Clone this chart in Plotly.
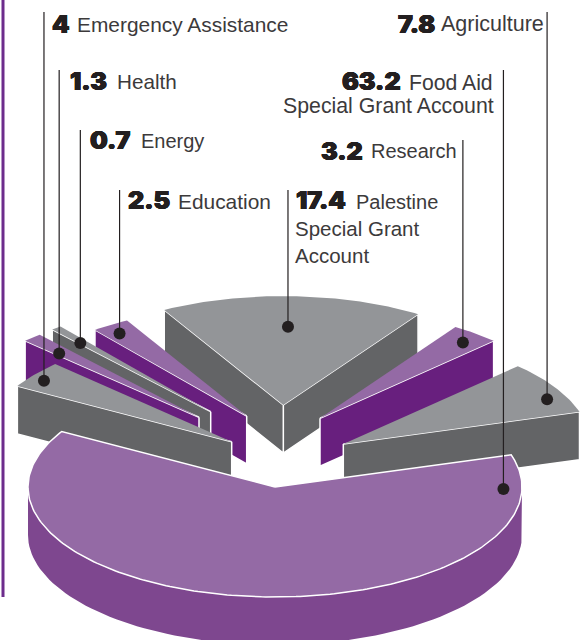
import math
import plotly.graph_objects as go

# Slices in angular order, counter-clockwise from the start angle
categories = ["Agriculture", "Research", "Palestine Special Grant Account", "Education",
              "Energy", "Health", "Emergency Assistance", "Food Aid Special Grant Account"]
values = [7.8, 3.2, 17.4, 2.5, 0.7, 1.3, 4, 63.2]
value_labels = ["7.8", "3.2", "17.4", "2.5", "0.7", "1.3", "4", "63.2"]

# Projection of the tilted pie onto the page
CX, CY = 274.5, 487.0
RX, RY = 247.0, 110.0
DEPTH = 48.0
START_ANGLE = 17.0

GREY_TOP, GREY_SIDE = "#939598", "#636466"
PURPLE_TOP, PURPLE_SIDE = "#946aa5", "#681f7e"
INK, LABEL_INK = "#231f20", "#3c3a3b"
HEAVY_SHADOW = "0.5px 0 0 #231f20, -0.5px 0 0 #231f20, 0 0.4px 0 #231f20, 0 -0.4px 0 #231f20"

# name: explode offset, radius factor, colours, visible radial faces,
# leader anchor (fraction across the slice, fraction of radius), leader top
slice_style = {
    "Agriculture": dict(off=(68.8, -43), r=1.0, top=GREY_TOP, side=GREY_SIDE, faces="s", anchor=(.33, .92), lead=12),
    "Research": dict(off=(45.5, -68.7), r=.995, top=PURPLE_TOP, side=PURPLE_SIDE, faces="s", anchor=(.43, .90), lead=140),
    "Palestine Special Grant Account": dict(off=(8.8, -82), r=.99, top=GREY_TOP, side=GREY_SIDE, faces="se", anchor=(.51, .712), lead=190),
    "Education": dict(off=(-27.8, -71), r=.995, top=PURPLE_TOP, side=PURPLE_SIDE, faces="e", anchor=(.59, .91), lead=190),
    "Energy": dict(off=(-63.8, -75.3), r=.985, top=GREY_TOP, side=GREY_SIDE, faces="e", anchor=(.84, .817), lead=130),
    "Health": dict(off=(-75.5, -69.7), r=.99, top=PURPLE_TOP, side=PURPLE_SIDE, faces="e", anchor=(.79, .81), lead=70),
    "Emergency Assistance": dict(off=(-42.8, -45.3), r=1.005, top=GREY_TOP, side=GREY_SIDE, faces="e", anchor=(.60, .94), lead=12),
    "Food Aid Special Grant Account": dict(off=(.5, 0), r=1.0, top=PURPLE_TOP, side="#7e478f", faces="", anchor=(.92, .925), lead=70),
}
draw_order = ["Palestine Special Grant Account", "Education", "Energy", "Health", "Research",
              "Emergency Assistance", "Agriculture", "Food Aid Special Grant Account"]

# Text runs: text, left edge, vertical centre, font size (None for the heavy value style)
text_runs = [
    ("4", 52, 24, None), ("Emergency Assistance", 77, 24, 20.9),
    ("1.3", 70, 81, None), ("Health", 117, 81, 20.7),
    ("0.7", 90, 140, None), ("Energy", 141, 141, 20.0),
    ("2.5", 128, 200, None), ("Education", 178, 201, 20.9),
    ("17.4", 296, 200, None), ("Palestine", 356, 202, 20.0),
    ("Special Grant", 295, 228, 20.5), ("Account", 295, 255, 20.5),
    ("3.2", 321, 151, None), ("Research", 371, 151, 20.0),
    ("63.2", 342, 81, None), ("Food Aid", 409, 82, 21.2),
    ("Special Grant Account", 283, 106, 21.3),
    ("7.8", 398, 24, None), ("Agriculture", 441, 24, 21.5),
]

total = sum(values)
spans = {}
angle = START_ANGLE
for name, value in zip(categories, values):
    sweep = value / total * 360
    spans[name] = (angle, angle + sweep)
    angle += sweep


def project(name, theta, radius=1.0, drop=0.0):
    st = slice_style[name]
    t = math.radians(theta)
    return (CX + st["off"][0] + radius * RX * math.cos(t),
            CY + st["off"][1] - radius * RY * math.sin(t) + drop)


def polygon(points, fill, line_width=1.5):
    xs, ys = zip(*points)
    return go.Scatter(x=list(xs) + [xs[0]], y=list(ys) + [ys[0]], mode="lines", fill="toself",
                      fillcolor=fill, line=dict(color="white", width=line_width),
                      hoverinfo="skip", showlegend=False)


fig = go.Figure()

for name in draw_order:
    st = slice_style[name]
    a0, a1 = spans[name]
    r = st["r"]
    apex = project(name, 0, 0)
    apex_low = project(name, 0, 0, DEPTH)
    steps = max(int(a1 - a0), 2)
    arc = [project(name, a0 + (a1 - a0) * i / steps, r) for i in range(steps + 1)]
    top_poly = polygon([apex] + arc, st["top"], 1.5 if name.startswith("Food") else 0)

    if name.startswith("Food"):
        # Outer rim: only the near half of the ellipse faces the viewer
        near = [project(name, 180 + i * 2) for i in range(91)]
        far = [project(name, 360 - i * 2, 1, DEPTH) for i in range(91)]
        fig.add_trace(polygon(near + far, st["side"], 0))
    for face in st["faces"]:
        edge = a0 if face == "s" else a1
        fig.add_trace(polygon([apex, project(name, edge, r), project(name, edge, r, DEPTH), apex_low], st["side"]))
    fig.add_trace(top_poly)

# Leader lines and their dots
for name in categories:
    st = slice_style[name]
    a0, a1 = spans[name]
    frac, radial = st["anchor"]
    dot = project(name, a0 + (a1 - a0) * frac, radial)
    fig.add_trace(go.Scatter(x=[dot[0], dot[0]], y=[st["lead"], dot[1]], mode="lines",
                             line=dict(color=INK, width=1.2), hoverinfo="skip", showlegend=False))
    fig.add_trace(go.Scatter(x=[dot[0]], y=[dot[1]], mode="markers",
                             marker=dict(color=INK, size=12), hoverinfo="skip", showlegend=False))

annotations = []
for text, x, y, size in text_runs:
    if size is None:
        font = dict(family="Inter", size=25, color=INK, weight=900, shadow=HEAVY_SHADOW)
    else:
        font = dict(family="Liberation Sans", size=size, color=LABEL_INK)
    annotations.append(dict(text=text, x=x, y=y, xref="x", yref="y", xanchor="left", yanchor="middle",
                            showarrow=False, font=font, borderpad=0, xshift=-1))

fig.update_layout(
    width=584, height=640, autosize=False,
    margin=dict(l=0, r=0, t=0, b=0),
    paper_bgcolor="white", plot_bgcolor="white", showlegend=False,
    xaxis=dict(range=[0, 584], visible=False, fixedrange=True),
    yaxis=dict(range=[640, 0], visible=False, fixedrange=True),
    annotations=annotations,
    shapes=[dict(type="line", x0=3, x1=3, y0=0, y1=597, line=dict(color="#6d2c8c", width=3))],
)

fig.write_html("out.html", config=dict(displayModeBar=False))
